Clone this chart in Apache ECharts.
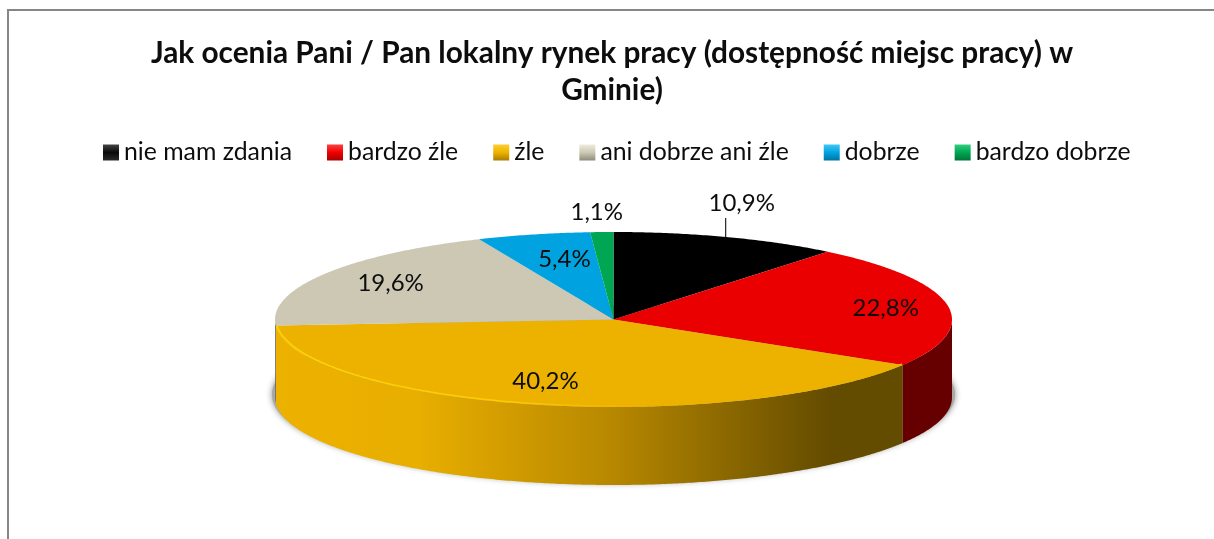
<!DOCTYPE html>
<html>
<head>
<meta charset="utf-8">
<style>
    html, body { margin: 0; padding: 0; background: #fff; }
    #container { width: 1214px; height: 539px; }
</style>
<script src="https://cdn.jsdelivr.net/npm/echarts@6/dist/echarts.min.js"></script>
</head>
<body>
<div id="container"></div>
<script>
const titleText = "Jak ocenia Pani / Pan lokalny rynek pracy (dostępność miejsc pracy) w\nGminie)"
const categories = ["nie mam zdania", "bardzo źle", "źle", "ani dobrze ani źle", "dobrze", "bardzo dobrze"]
const shares = [10.9, 22.8, 40.2, 19.6, 5.4, 1.1]
const shareLabels = ["10,9%", "22,8%", "40,2%", "19,6%", "5,4%", "1,1%"]

const topColors = ["#000000", "#EA0000", "#EDB200", "#CCC8B4", "#00A3E0", "#00A651"]
const legendTops = ["#444444", "#FF4040", "#FFD030", "#EFECDD", "#40C8F5", "#30D080"]
const legendMids = ["#0a0a0a", "#F00000", "#EDB200", "#CCC8B4", "#00A3E0", "#00A651"]
const legendBottoms = ["#2a2a2a", "#A80000", "#A87E00", "#8E8B7C", "#0075A0", "#00753A"]

// pie layout
const cx = 613.5, cy = 319.5, rx = 338.5, ry = 87.5, depth = 78
// label nudge from the default spot, px
const labelNudge = [[43, -54], [22, 0], [-8, -2], [-6, -2], [11, 4], [-8, -42]]

const fontName = "Lato, Carlito, sans-serif"
const total = shares.reduce((a, b) => a + b, 0)

function rim(deg, y0 = cy, rxx = rx, ryy = ry) {
    let a = deg * Math.PI / 180
    return [cx + rxx * Math.sin(a), y0 - ryy * Math.cos(a)]
}

function arc(from, to, y0, rxx, ryy) {
    let pts = []
    let n = Math.max(2, Math.ceil(Math.abs(to - from) * 2))
    for (let i = 0; i <= n; i++) {
        pts.push(rim(from + (to - from) * i / n, y0, rxx, ryy))
    }
    return pts
}

function hGradient(x0, x1, stops) {
    return new echarts.graphic.LinearGradient(x0, 0, x1, 0, stops, true)
}

function sideFill(index) {
    if (index === 2) {
        return hGradient(275, 903, [
            { offset: 0, color: "#EDB200" },
            { offset: 0.23, color: "#E8AE00" },
            { offset: 0.533, color: "#B88800" },
            { offset: 0.885, color: "#634B00" },
            { offset: 1, color: "#634B00" }
        ])
    }
    if (index === 1) return "#660000"
    return "#6b6858"
}

function renderSlice(index) {
    return function (params, api) {
        let before = shares.slice(0, index).reduce((a, b) => a + b, 0)
        let value = api.value(0)
        let start = before / total * 360
        let end = (before + value) / total * 360
        let mid = (start + end) / 2
        let children = []

        // front wall, only the part turned to the viewer
        let a = Math.max(start, 90), b = Math.min(end, 270)
        if (a < b) {
            let upper = arc(a, b, cy, rx, ry)
            let lower = arc(b, a, cy + depth, rx, ry)
            children.push({
                type: "polygon",
                shape: { points: upper.concat(lower) },
                style: { fill: sideFill(index) }
            })
        }

        children.push({
            type: "polygon",
            shape: { points: [[cx, cy]].concat(arc(start, end, cy, rx, ry)) },
            style: { fill: topColors[index] }
        })

        // light bevel on the rim
        if (index === 2) {
            children.push({
                type: "polyline",
                shape: { points: arc(a, b, cy - 1, rx - 1, ry) },
                style: {
                    fill: null,
                    lineWidth: 1.5,
                    stroke: hGradient(275, 640, [
                        { offset: 0, color: "#FFD400" },
                        { offset: 0.6, color: "#FFCC00" },
                        { offset: 1, color: "#EDB200" }
                    ])
                }
            })
        }

        let spot = rim(mid, cy, rx * 0.75, ry * 0.75)
        let nudge = labelNudge[index]
        children.push({
            type: "text",
            z2: 10,
            style: {
                x: spot[0] + nudge[0],
                y: spot[1] + nudge[1],
                text: shareLabels[index],
                fill: "#0d0d0d",
                font: "24px " + fontName,
                textAlign: "center",
                textVerticalAlign: "middle"
            }
        })

        // leader for the label that sits outside
        if (index === 0) {
            let p = rim(mid)
            children.push({
                type: "line",
                shape: { x1: p[0] - 1.5, y1: p[1], x2: p[0] - 1.5, y2: p[1] - 19 },
                style: { stroke: "#222222", lineWidth: 1.2 }
            })
        }
        return { type: "group", children: children }
    }
}

let series = [{
    type: "custom",
    name: "shadow",
    coordinateSystem: "none",
    silent: true,
    z: 1,
    data: [[0]],
    renderItem: function () {
        return {
            type: "polygon",
            shape: { points: arc(0, 360, cy + depth - 3, rx + 3, ry + 1) },
            style: { fill: "#a8a8a8", shadowBlur: 6, shadowColor: "rgba(0,0,0,0.45)" }
        }
    }
}]

categories.forEach((name, i) => {
    series.push({
        type: "custom",
        name: name,
        coordinateSystem: "none",
        z: 2,
        itemStyle: { color: topColors[i] },
        data: [[shares[i]]],
        renderItem: renderSlice(i)
    })
})

let myChart = echarts.init(document.getElementById("container"), null, { renderer: "canvas" })
myChart.setOption({
    animation: false,
    backgroundColor: "#ffffff",
    title: {
        text: titleText,
        left: 607,
        top: 30,
        textAlign: "center",
        textStyle: {
            fontFamily: fontName,
            fontWeight: "bold",
            fontSize: 29.8,
            lineHeight: 37,
            color: "#0d0d0d"
        }
    },
    legend: {
        left: 103,
        top: 140,
        padding: 0,
        itemWidth: 16,
        itemHeight: 16,
        itemGap: 35,
        icon: "rect",
        textStyle: { fontFamily: fontName, fontSize: 24.8, color: "#0d0d0d" },
        data: categories.map((name, i) => ({
            name: name,
            itemStyle: {
                color: new echarts.graphic.LinearGradient(0, 0, 0, 1, [
                    { offset: 0, color: legendTops[i] },
                    { offset: 0.5, color: legendMids[i] },
                    { offset: 1, color: legendBottoms[i] }
                ])
            }
        }))
    },
    graphic: [{
        type: "polyline",
        silent: true,
        shape: { points: [[8, 539], [8, 10], [1214, 10]] },
        style: { fill: null, stroke: "#868686", lineWidth: 2 }
    }],
    series: series
})
</script>
</body>
</html>
